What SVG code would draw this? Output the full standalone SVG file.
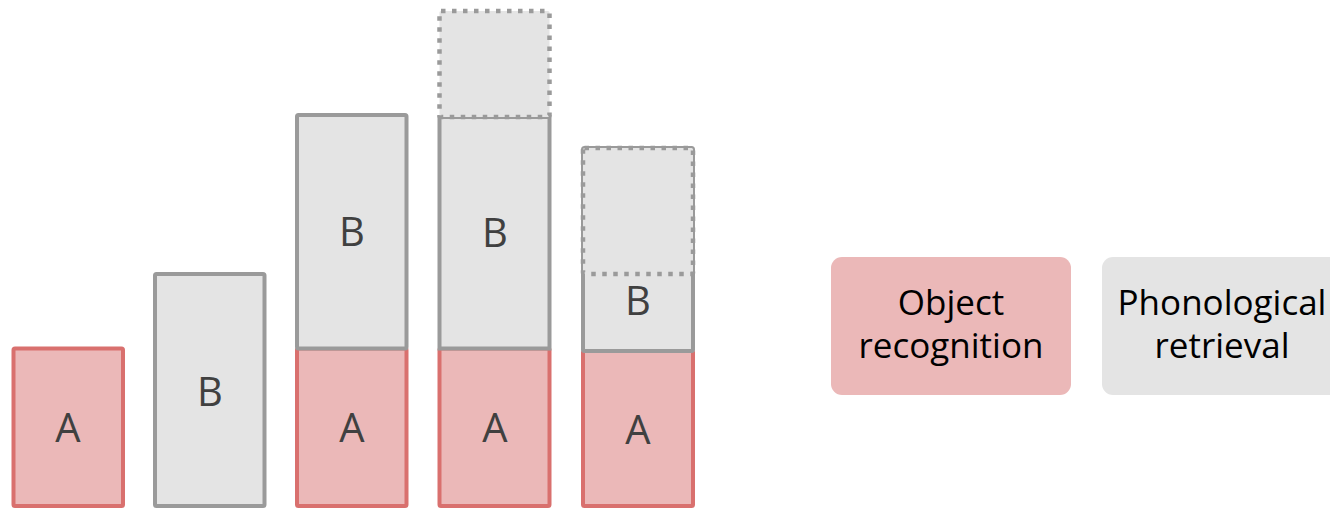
<svg xmlns="http://www.w3.org/2000/svg" width="1330" height="510" viewBox="0 0 1330 510">
<style>
.a{fill:#EBB8B8;stroke:#D9706E;stroke-width:4}
.b{fill:#E4E4E4;stroke:#9A9A9A;stroke-width:4}
.d{fill:#E4E4E4;stroke:#9A9A9A;stroke-width:4.5;stroke-dasharray:4.5 6.5}
.l{font-family:"Open Sans","Noto Sans",sans-serif;font-size:40px;fill:#404040;text-anchor:middle}
.t{font-family:"Open Sans","Noto Sans",sans-serif;font-size:35px;fill:#000;text-anchor:middle}
</style>
<rect width="1330" height="510" fill="#fff"/>
<g id="bar1">
<rect class="a" x="13.5" y="348.5" width="109.5" height="157.5" rx="1.5"/>
<text class="l" x="68" y="442">A</text>
</g>
<g id="bar2">
<rect class="b" x="155" y="274" width="109.5" height="232" rx="1.5"/>
<text class="l" x="210" y="406">B</text>
</g>
<g id="bar3">
<rect class="a" x="297" y="348.5" width="109.5" height="157.5" rx="1.5"/>
<rect class="b" x="297" y="115" width="109.5" height="233.5" rx="1.5"/>
<text class="l" x="352" y="246">B</text>
<text class="l" x="352" y="442">A</text>
</g>
<g id="bar4">
<rect class="a" x="439.5" y="348.5" width="110" height="157.5" rx="1.5"/>
<rect class="b" x="439.5" y="117" width="110" height="231.5"/>
<rect class="d" x="439.5" y="11" width="110" height="106" rx="1.5"/>
<text class="l" x="495" y="247">B</text>
<text class="l" x="495" y="442">A</text>
</g>
<g id="bar5">
<rect class="a" x="583" y="351" width="110" height="155" rx="1.5"/>
<rect class="b" x="583" y="148" width="110" height="203" rx="1.5"/>
<rect class="d" x="583" y="148" width="110" height="126" rx="1.5"/>
<text class="l" x="638" y="315">B</text>
<text class="l" x="638" y="444">A</text>
</g>
<g id="legend-object">
<rect x="831" y="257" width="240" height="138" rx="11" fill="#EBB8B8"/>
<text class="t" x="951" y="315">Object</text>
<text class="t" x="951" y="358">recognition</text>
</g>
<g id="legend-phono">
<rect x="1102" y="257" width="240" height="138" rx="11" fill="#E4E4E4"/>
<text class="t" x="1222" y="315">Phonological</text>
<text class="t" x="1222" y="358">retrieval</text>
</g>
<g id="connectors"></g>
</svg>
